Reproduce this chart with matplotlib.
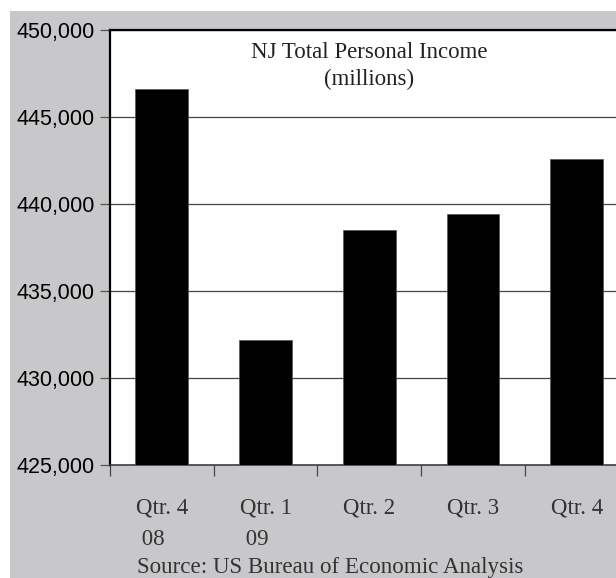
import numpy as np
import matplotlib
matplotlib.use('Agg')
import matplotlib.pyplot as plt
from matplotlib.patches import Rectangle

# data
quarters = ['Qtr. 4\n 08', 'Qtr. 1\n 09', 'Qtr. 2', 'Qtr. 3', 'Qtr. 4']
income = [446600, 432200, 438500, 439400, 442600]   # millions
yticks = [425000, 430000, 435000, 440000, 445000, 450000]
title = 'NJ Total Personal Income\n(millions)'
source = 'Source: US Bureau of Economic Analysis'

W, H = 616, 578
bg = '#c8c8ca'
serif = ['Liberation Serif', 'DejaVu Serif']
sans = ['Liberation Sans', 'DejaVu Sans']

fig = plt.figure(figsize=(W / 100, H / 100), dpi=100, facecolor='white')
# gray panel, white strip on top and left
fig.add_artist(Rectangle((10 / W, 0), 1, 1 - 11 / H, transform=fig.transFigure,
                         facecolor=bg, edgecolor='none', zorder=-1))

# plot area runs past the right edge of the picture
ax = fig.add_axes([110 / W, 1 - 465 / H, 518.5 / W, 435 / H])
x = np.arange(len(quarters))
ax.bar(x, income, width=0.51, color='black', edgecolor='#555555', linewidth=0.5, zorder=3)

ax.set_xlim(-0.5, len(quarters) - 0.5)
ax.set_ylim(yticks[0], yticks[-1])
ax.set_yticks(yticks)
ax.set_yticklabels(['{:,}'.format(v) for v in yticks], fontfamily=sans, fontsize=15.5, color='black')
ax.tick_params(axis='y', length=7.5, width=0.9, color='#555555', pad=3.5)
ax.yaxis.grid(True, color='#444444', linewidth=0.9)
ax.set_axisbelow(True)

# tick marks between categories, labels at the centres
ax.set_xticks(np.arange(-0.5, len(quarters), 1.0))
ax.set_xticklabels([])
ax.tick_params(axis='x', which='major', length=8, width=0.9, color='#444444')
ax.set_xticks(x, minor=True)
ax.set_xticklabels(quarters, minor=True, fontfamily=serif, fontsize=16.5, color='#333333',
                   ha='center', multialignment='left', linespacing=1.65)
ax.tick_params(axis='x', which='minor', length=0, pad=23.5)

for s in ['left', 'top']:
    ax.spines[s].set_linewidth(1.6)
    ax.spines[s].set_color('black')
ax.spines['bottom'].set_linewidth(1.1)
ax.spines['bottom'].set_color('#333333')
ax.spines['right'].set_visible(False)

ax.text(0.5, 0.972, title, transform=ax.transAxes, ha='center', va='top',
        fontfamily=serif, fontsize=16.5, color='#222222', linespacing=1.37)

fig.text(137 / W, 1 - 573 / H, source, ha='left', va='baseline',
         fontfamily=serif, fontsize=16.6, color='#333333')

fig.savefig('out.png', dpi=100, facecolor=fig.get_facecolor())
